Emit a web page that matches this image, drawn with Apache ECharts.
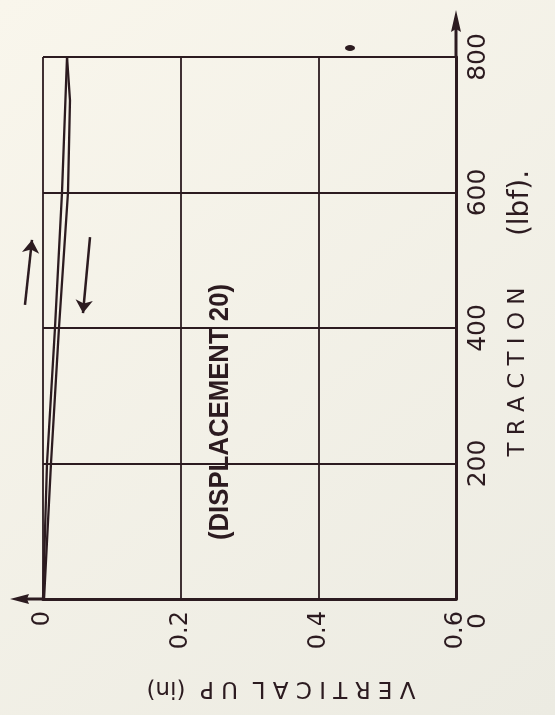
<!DOCTYPE html>
<html>
<head>
<meta charset="utf-8">
<script src="https://cdn.jsdelivr.net/npm/echarts@6/dist/echarts.min.js"></script>
<style>
  html, body { margin: 0; padding: 0; background: #f4f1e6; }
  #chart { width: 555px; height: 715px; }
</style>
</head>
<body>
<div id="chart"></div>
<script>
// Axis ticks
const verticalTicks = [0, 0.2, 0.4, 0.6];          // vertical up, in
const tractionTicks = [0, 200, 400, 600, 800];     // traction, lbf

// Loading branch (vertical up in inches vs traction in lbf)
const loadingUp = [0, 0.0058, 0.0174, 0.0276, 0.0349];
const loadingTraction = [0, 200, 400, 600, 800];

// Unloading branch
const unloadingUp = [0.0349, 0.0392, 0.0363, 0.0232, 0.0116, 0.0015];
const unloadingTraction = [800, 736, 600, 400, 200, 0];

// Direction arrows: [start, end]
const upArrowUp = [-0.0262, -0.016];
const upArrowTraction = [434, 530];
const downArrowUp = [0.0683, 0.0581];
const downArrowTraction = [534, 422];

const INK = '#2c1b20';
const FONT = 'DejaVu Sans';

const zip = (xs, ys) => xs.map((x, i) => [x, ys[i]]);

const chart = echarts.init(document.getElementById('chart'), null, { renderer: 'canvas' });

const option = {
  animation: false,
  backgroundColor: {
    type: 'linear', x: 0, y: 0, x2: 1, y2: 1,
    colorStops: [
      { offset: 0, color: '#f9f6ec' },
      { offset: 1, color: '#ecebe2' }
    ]
  },
  grid: { left: 43, right: 99, top: 57, bottom: 116, containLabel: false },
  xAxis: {
    type: 'value',
    min: verticalTicks[0],
    max: verticalTicks[verticalTicks.length - 1],
    interval: 0.2,
    axisLine: { show: true, onZero: false, lineStyle: { color: INK, width: 3 } },
    axisTick: { show: false },
    splitLine: { show: true, lineStyle: { color: INK, width: 1.8 } },
    axisLabel: {
      rotate: 90,
      margin: 12,
      color: INK,
      fontFamily: FONT,
      fontSize: 24,
      formatter: v => (v === 0 ? '0' : v.toFixed(1))
    }
  },
  yAxis: {
    type: 'value',
    position: 'right',
    min: tractionTicks[0],
    max: tractionTicks[tractionTicks.length - 1],
    interval: 200,
    axisLine: { show: true, onZero: false, lineStyle: { color: INK, width: 3 } },
    axisTick: { show: false },
    splitLine: { show: true, lineStyle: { color: INK, width: 1.8 } },
    axisLabel: {
      rotate: 90,
      margin: 10,
      color: INK,
      fontFamily: FONT,
      fontSize: 25,
      alignMinLabel: 'right',
      formatter: v => (v === 0 ? '{zero|0}' : String(v)),
      rich: { zero: { fontFamily: FONT, fontSize: 25, color: INK, padding: [0, 14, 0, 0] } }
    }
  },
  series: [
    {
      name: 'Loading',
      type: 'line',
      data: zip(loadingUp, loadingTraction),
      showSymbol: false,
      lineStyle: { color: INK, width: 2.3 },
      z: 5
    },
    {
      name: 'Unloading',
      type: 'line',
      data: zip(unloadingUp, unloadingTraction),
      showSymbol: false,
      lineStyle: { color: INK, width: 2.3 },
      z: 5
    },
    {
      name: 'Direction',
      type: 'lines',
      coordinateSystem: 'cartesian2d',
      clip: false,
      symbol: ['none', 'arrow'],
      symbolSize: 13,
      lineStyle: { color: INK, width: 2.5, opacity: 1 },
      itemStyle: { color: INK },
      data: [
        { coords: zip(upArrowUp, upArrowTraction) },
        { coords: zip(downArrowUp, downArrowTraction) }
      ],
      z: 6
    }
  ]
};

chart.setOption(option);

// Axis arrow extensions and rotated titles
const o = chart.convertToPixel({ gridIndex: 0 }, [verticalTicks[0], tractionTicks[0]]);
const t = chart.convertToPixel({ gridIndex: 0 }, [verticalTicks[verticalTicks.length - 1], tractionTicks[tractionTicks.length - 1]]);

chart.setOption({
  graphic: [
    // left-pointing arrow on the vertical-up axis
    { type: 'line', shape: { x1: o[0], y1: o[1], x2: o[0] - 24, y2: o[1] }, style: { stroke: INK, lineWidth: 3 }, z: 10 },
    { type: 'polygon', shape: { points: [[o[0] - 33, o[1]], [o[0] - 14, o[1] - 5], [o[0] - 16, o[1]], [o[0] - 14, o[1] + 5]] }, style: { fill: INK }, z: 10 },
    // upward arrow on the traction axis
    { type: 'line', shape: { x1: t[0], y1: t[1], x2: t[0], y2: t[1] - 36 }, style: { stroke: INK, lineWidth: 3 }, z: 10 },
    { type: 'polygon', shape: { points: [[t[0], t[1] - 47], [t[0] - 5, t[1] - 25], [t[0], t[1] - 28], [t[0] + 5, t[1] - 25]] }, style: { fill: INK }, z: 10 },
    {
      type: 'text', x: 220, y: 412, rotation: Math.PI / 2, scaleX: 0.92,
      style: {
        text: '(DISPLACEMENT 20)', fill: INK,
        font: 'bold 28px "Liberation Sans", sans-serif',
        align: 'center', verticalAlign: 'middle'
      },
      z: 12
    },
    {
      type: 'text', x: 518, y: 372, rotation: Math.PI / 2,
      style: {
        text: 'T R A C T I O N', fill: INK,
        font: '23px "DejaVu Sans"', align: 'center', verticalAlign: 'middle'
      },
      z: 12
    },
    {
      type: 'text', x: 521, y: 203, rotation: Math.PI / 2,
      style: {
        text: '(lbf).', fill: INK,
        font: '28px "DejaVu Sans"', align: 'center', verticalAlign: 'middle'
      },
      z: 12
    },
    {
      type: 'text', x: 281, y: 688, rotation: Math.PI,
      style: {
        text: 'V E R T I C A L  U P  (in)', fill: INK,
        font: '23px "DejaVu Sans"', align: 'center', verticalAlign: 'middle'
      },
      z: 12
    },
    { type: 'ellipse', shape: { cx: 350, cy: 48, rx: 5, ry: 3 }, style: { fill: INK }, z: 12 }
  ]
});
</script>
</body>
</html>
